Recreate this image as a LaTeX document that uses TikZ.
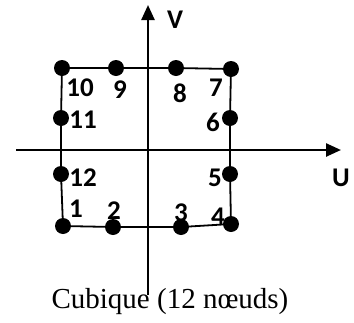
\documentclass[tikz,border=0pt]{standalone}
\usepackage{fontspec}
\setmainfont{Liberation Serif}
\newfontfamily\lblfont{Carlito}
\usetikzlibrary{arrows.meta}
\begin{document}
\begin{tikzpicture}[x=1pt,y=-1pt,
  dot/.style={circle,fill=black,inner sep=0pt,minimum size=16pt},
  lbl/.style={font=\lblfont\bfseries\fontsize{27}{27}\selectfont,inner sep=0pt},
  axis/.style={line width=2.5pt,-{Triangle[length=15pt,width=13pt]}},
  edge/.style={line width=1.8pt}]
\useasboundingbox (0,0) rectangle (354,322);
% axes
\coordinate (xl) at (16,150);
\coordinate (xr) at (341,150);
\coordinate (yb) at (148,295);
\coordinate (yt) at (148,5);
\draw[axis] (xl) -- (xr);
\draw[axis] (yb) -- (yt);
% nodes
\node[dot] (n1) at (63,226) {};
\node[dot] (n2) at (113,227) {};
\node[dot] (n3) at (181,227) {};
\node[dot] (n4) at (231,224) {};
\node[dot] (n5) at (230,174) {};
\node[dot] (n6) at (230,118) {};
\node[dot] (n7) at (231,69) {};
\node[dot] (n8) at (176,68) {};
\node[dot] (n9) at (116,68) {};
\node[dot] (n10) at (62,68) {};
\node[dot] (n11) at (61,118) {};
\node[dot] (n12) at (61,174) {};
\draw[edge] (n1.center) -- (n2.center) -- (n3.center) -- (n4.center) -- (n5.center) -- (n6.center) -- (n7.center) -- (n8.center) -- (n9.center) -- (n10.center) -- (n11.center) -- (n12.center) -- cycle;
% labels
\node[lbl] (l1) at (76,209) {1};
\node[lbl] (l2) at (114,211) {2};
\node[lbl] (l3) at (181,213) {3};
\node[lbl] (l4) at (218,217) {4};
\node[lbl] (l5) at (215,178) {5};
\node[lbl] (l6) at (213,122) {6};
\node[lbl] (l7) at (216,88) {7};
\node[lbl] (l8) at (180,93) {8};
\node[lbl] (l9) at (120,90) {9};
\node[lbl] (l10) at (80,88) {10};
\node[lbl] (l11) at (83,120) {11};
\node[lbl] (l12) at (83,178) {12};
\node[lbl] (V) at (175,20) {V};
\node[lbl] (U) at (341,178) {U};
% caption
\node[font=\fontsize{29}{29}\selectfont,inner sep=0pt] (cap) at (170,302) {Cubique (12 nœuds)};
\end{tikzpicture}
\end{document}
